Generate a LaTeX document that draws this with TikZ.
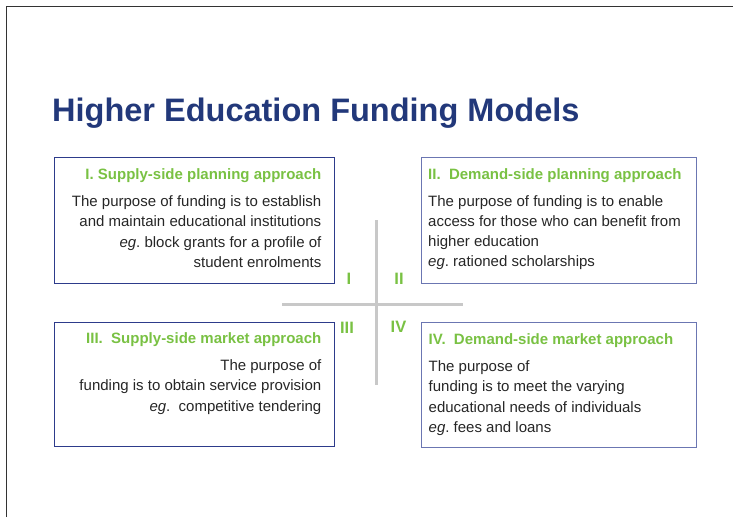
\documentclass[tikz,border=0pt]{standalone}
\usepackage{fontspec}
\setmainfont{Liberation Sans}
\usepackage{xcolor}
\usepackage{tikz}
\usetikzlibrary{positioning}
\definecolor{headblue}{HTML}{22387A}
\definecolor{boxblue}{HTML}{2D3B8B}
\definecolor{boxblue2}{HTML}{6B76B2}
\definecolor{leafgreen}{HTML}{79C143}
\definecolor{crossgrey}{HTML}{C8C8C8}
\definecolor{bodygrey}{HTML}{262626}
\tikzstyle{quad} = [draw=boxblue, line width=1pt, rectangle, inner sep=0pt,
minimum height=126pt, minimum width=280pt]
\tikzstyle{quadlight} = [quad, draw=boxblue2, minimum width=275pt]
\tikzstyle{blurb} = [inner sep=0pt, text=bodygrey, font=\fontsize{15}{20.3}\selectfont]
\tikzstyle{roman} = [inner sep=0pt, text=leafgreen, font=\fontsize{16.5}{16.5}\selectfont\bfseries]
\tikzstyle{arm} = [draw=crossgrey, line width=3pt]
\newcommand{\heading}[1]{{\color{leafgreen}\bfseries #1}\\[6.7pt]}
\newcommand{\eg}{{\itshape eg}.}

\begin{document}
\begin{tikzpicture}[x=1pt, y=-1pt]
	\useasboundingbox (0,0) rectangle (733,517);
	\draw [line width=1pt, black!80] (6.5,517) |- (733,6.5);
	\node [anchor=base west, inner sep=0pt, text=headblue,
	font=\fontsize{32.5}{32.5}\selectfont\bfseries] (title) at (52,121)
	{Higher Education Funding Models};

	% We start by placing the four boxes
	\node [quad] (splan) at (194,220) {};
	\node [quadlight, right of=splan, node distance=364.5pt] (dplan) {};
	\node [quad, below of=splan, node distance=164pt, minimum height=124pt] (smarket) {};
	\node [quadlight, below of=dplan, node distance=164.5pt, minimum height=125pt] (dmarket) {};

	% The texts hang from the corners of their boxes
	\node [blurb, align=right, below left=12pt and 13pt of splan.north east] (splantext)
	{\heading{I. Supply-side planning approach}
	The purpose of funding is to establish\\
	and maintain educational institutions\\
	\eg\ block grants for a profile of\\
	student enrolments};
	\node [blurb, align=left, below right=11.5pt and 7.5pt of dplan.north west] (dplantext)
	{\heading{II.\ \ Demand-side planning approach}
	The purpose of funding is to enable\\
	access for those who can benefit from\\
	higher education\\
	\eg\ rationed scholarships};
	\node [blurb, align=right, below left=11pt and 13pt of smarket.north east] (smarkettext)
	{\heading{III.\ \ Supply-side market approach}
	The purpose of\\
	funding is to obtain service provision\\
	\eg\ \ competitive tendering};
	\node [blurb, align=left, below right=12pt and 8pt of dmarket.north west] (dmarkettext)
	{\heading{IV.\ \ Demand-side market approach}
	The purpose of\\
	funding is to meet the varying\\
	educational needs of individuals\\
	\eg\ fees and loans};

	% The cross in the middle and its quadrant numbers
	\coordinate (armN) at (376,220);
	\coordinate (armS) at (376,385);
	\coordinate (armW) at (282,304);
	\coordinate (armE) at (463,304);
	\draw [arm] (armN) -- (armS);
	\draw [arm] (armW) -- (armE);
	\node [roman] (numI) at (349,279) {I};
	\node [roman] (numII) at (399,279) {II};
	\node [roman] (numIII) at (347,327.5) {III};
	\node [roman] (numIV) at (398.5,326.5) {IV};
\end{tikzpicture}
\end{document}
